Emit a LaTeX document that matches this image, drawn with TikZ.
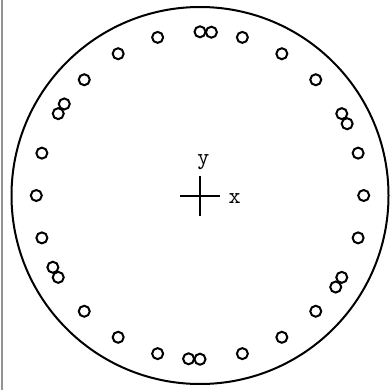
\documentclass[tikz,border=0pt]{standalone}
\usepackage{graphicx}
\usetikzlibrary{calc}
\newcommand{\lbltext}[1]{\scalebox{2.3}{\ttfamily #1}}
\begin{document}
\begin{tikzpicture}[x=1pt,y=-1pt,
  dot/.style={draw, circle, line width=2pt, minimum size=11pt, inner sep=0pt},
  lbl/.style={inner sep=0pt}]
\useasboundingbox (0,0) rectangle (390,390);
\draw[gray!85, line width=2pt] (1.5,0) -- (1.5,390);
\coordinate (c) at (200,195.5);
\node[draw, circle, line width=2pt, minimum size=377pt, inner sep=0pt] (rim) at (c) {};
\foreach \a in {0,15,...,345} {
  \node[dot] (d\a) at ($(c)+(\a:163.7)$) {};
}
\foreach \a in {-26,-86,-146,-206,-266,-326} {
  \node[dot] (e\a) at ($(c)+(\a:163.7)$) {};
}
\coordinate (hl) at (180,196);
\coordinate (hr) at (220,196);
\coordinate (vt) at (200,176);
\coordinate (vb) at (200,216);
\draw[line width=1.7pt] (hl) -- (hr);
\draw[line width=1.7pt] (vt) -- (vb);
\node[lbl] (ly) at (203.3,162.5) {\lbltext{y}};
\node[lbl] (lx) at (234.7,198.8) {\lbltext{x}};
\end{tikzpicture}
\end{document}
